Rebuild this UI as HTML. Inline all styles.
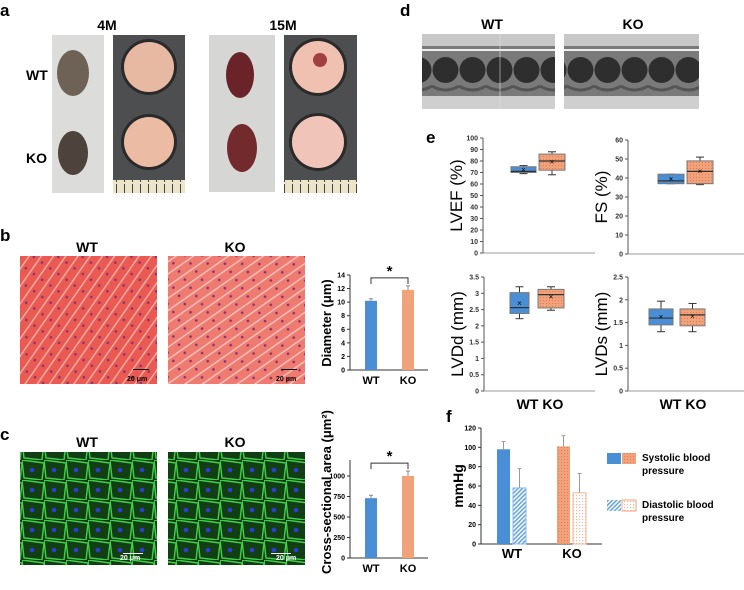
<!DOCTYPE html>
<html><head><meta charset="utf-8"><style>
body{margin:0;background:#fff;font-family:"Liberation Sans",Arial,sans-serif}
svg text{font-family:"Liberation Sans",Arial,sans-serif}
</style></head><body>
<svg id="fig" width="744" height="585" viewBox="0 0 744 585" xmlns="http://www.w3.org/2000/svg">
<defs>
<pattern id="histo" width="14" height="10" patternUnits="userSpaceOnUse" patternTransform="rotate(-55)"><rect width="14" height="10" fill="#ea5a52"/><rect y="0" width="14" height="1.5" fill="#f4aaa0"/><circle cx="5" cy="5" r="1.3" fill="#8a3070"/></pattern>
<pattern id="histo2" width="14" height="10" patternUnits="userSpaceOnUse" patternTransform="rotate(-35)"><rect width="14" height="10" fill="#ef7a70"/><rect y="0" width="14" height="1.5" fill="#f8c0b8"/><circle cx="5" cy="5" r="1.3" fill="#8a3070"/></pattern>
<pattern id="fluo" width="22" height="20" patternUnits="userSpaceOnUse"><rect width="22" height="20" fill="#123e14"/><path d="M0 0L22 3L20 20L2 18Z" fill="none" stroke="#3fd04a" stroke-width="1.4"/><circle cx="10" cy="10" r="2.3" fill="#2a3fd0"/></pattern>
<pattern id="echo" x="0" y="34" width="27" height="75" patternUnits="userSpaceOnUse"><rect width="27" height="75" fill="#7a7a7a"/><rect width="27" height="12" fill="#c8c8c8"/><rect y="62" width="27" height="13" fill="#cfcfcf"/><path d="M0 16H27" stroke="#eee" stroke-width="2"/><ellipse cx="13.5" cy="36" rx="13" ry="13" fill="#2e2e2e"/><path d="M0 52Q13.5 60 27 52" stroke="#555" stroke-width="3" fill="none"/></pattern>
<pattern id="orX" width="3" height="3" patternUnits="userSpaceOnUse"><rect width="3" height="3" fill="#f2a27a"/><rect width="1" height="1" fill="#e07d52"/></pattern>
<pattern id="blueHatch" width="3" height="3" patternUnits="userSpaceOnUse" patternTransform="rotate(45)"><rect width="3" height="3" fill="#fff"/><rect width="1.6" height="3" fill="#6aa6dd"/></pattern>
<pattern id="orDot" width="3" height="3" patternUnits="userSpaceOnUse"><rect width="3" height="3" fill="#fff"/><rect width="1.2" height="1.2" fill="#f4b497"/></pattern>
<pattern id="ruler" width="8" height="13" patternUnits="userSpaceOnUse"><rect width="8" height="13" fill="#ece4c8"/><rect x="4" y="2" width="1" height="11" fill="#444"/></pattern>
</defs>

<!-- panel a -->
<text x="0" y="16" font-size="17" font-weight="bold">a</text>
<text x="107" y="30" font-size="14" font-weight="bold" text-anchor="middle">4M</text>
<text x="283" y="30" font-size="14" font-weight="bold" text-anchor="middle">15M</text>
<text x="26" y="80" font-size="14" font-weight="bold">WT</text>
<text x="26" y="163" font-size="14" font-weight="bold">KO</text>
<g>
<rect x="52" y="35" width="52" height="158" fill="#dcdcda"/>
<ellipse cx="73" cy="73" rx="16" ry="23" fill="#6e6257"/><ellipse cx="73" cy="153" rx="15" ry="22" fill="#4e423c"/>
<rect x="113" y="35" width="72" height="158" fill="#4c4e50"/>
<circle cx="149" cy="67" r="28" fill="#2a2a2a"/><circle cx="149" cy="67" r="25" fill="#e8b9a2"/>
<circle cx="149" cy="142" r="28" fill="#2a2a2a"/><circle cx="149" cy="142" r="25" fill="#ebbba3"/>
<rect x="113" y="180" width="72" height="13" fill="url(#ruler)"/>
<rect x="209" y="35" width="66" height="157" fill="#d6d6d4"/>
<ellipse cx="240" cy="75" rx="14" ry="23" fill="#6a2328"/><ellipse cx="242" cy="148" rx="15" ry="24" fill="#722a2c"/>
<rect x="284" y="35" width="73" height="158" fill="#4c4e50"/>
<circle cx="318" cy="67" r="29" fill="#2a2a2a"/><circle cx="318" cy="67" r="26" fill="#f0c0b0"/><circle cx="320" cy="60" r="7" fill="#a04040"/>
<circle cx="318" cy="142" r="29" fill="#2a2a2a"/><circle cx="318" cy="142" r="26" fill="#f0c4b8"/>
<rect x="284" y="180" width="73" height="13" fill="url(#ruler)"/>
</g>

<!-- panel b -->
<text x="0" y="241" font-size="17" font-weight="bold">b</text>
<text x="87" y="252" font-size="14" font-weight="bold" text-anchor="middle">WT</text>
<text x="235" y="252" font-size="14" font-weight="bold" text-anchor="middle">KO</text>
<rect x="20" y="256" width="137" height="128" fill="url(#histo)"/>
<rect x="168" y="256" width="137" height="128" fill="url(#histo2)"/>
<rect x="133" y="369" width="16" height="1" fill="#000"/><text x="127" y="381" font-size="7" fill="#000" font-weight="bold">20 μm</text>
<rect x="281" y="369" width="16" height="1" fill="#000"/><text x="276" y="381" font-size="7" fill="#000" font-weight="bold">20 μm</text>
<g id="chartB"></g>

<!-- panel c -->
<text x="0" y="440" font-size="17" font-weight="bold">c</text>
<text x="87" y="447" font-size="14" font-weight="bold" text-anchor="middle">WT</text>
<text x="235" y="447" font-size="14" font-weight="bold" text-anchor="middle">KO</text>
<rect x="20" y="452" width="137" height="113" fill="url(#fluo)"/>
<rect x="168" y="452" width="137" height="113" fill="url(#fluo)"/>
<rect x="123" y="553" width="20" height="1" fill="#fff"/><text x="120" y="555" font-size="7" fill="#fff" font-weight="bold" dy="5">20 μm</text>
<rect x="271" y="553" width="20" height="1" fill="#fff"/><text x="276" y="555" font-size="7" fill="#fff" font-weight="bold" dy="5">20 μm</text>
<g id="chartC"></g>

<!-- panel d -->
<text x="400" y="16" font-size="17" font-weight="bold">d</text>
<text x="492" y="29" font-size="14" font-weight="bold" text-anchor="middle">WT</text>
<text x="633" y="29" font-size="14" font-weight="bold" text-anchor="middle">KO</text>
<rect x="422" y="34" width="133" height="75" fill="url(#echo)"/>
<rect x="564" y="34" width="135" height="75" fill="url(#echo)"/>
<line x1="500" y1="34" x2="500" y2="109" stroke="#ddd" stroke-width="0.6"/>

<!-- panel e -->
<text x="426" y="143" font-size="17" font-weight="bold">e</text>
<g id="chartE"></g>

<!-- panel f -->
<text x="446" y="422" font-size="17" font-weight="bold">f</text>
<g id="chartF"></g>
</svg>
<script>
const NS="http://www.w3.org/2000/svg";
function mk(p,tag,a,txt){const e=document.createElementNS(NS,tag);for(const k in a)e.setAttribute(k,a[k]);if(txt!==undefined)e.textContent=txt;p.appendChild(e);return e;}

// ---- panel b data
const bCats=["WT","KO"];
const bVals=[10.2,11.8];
const bErr=[0.3,0.6];
const bTicks=[0,2,4,6,8,10,12,14];
// ---- panel c data
const cCats=["WT","KO"];
const cVals=[730,1000];
const cErr=[35,60];
const cTicks=[0,250,500,750,1000];
// ---- panel e data (min,q1,median,q3,max,mean)
const eTitles=["LVEF (%)","FS (%)","LVDd (mm)","LVDs (mm)"];
const eTicks=[[0,10,20,30,40,50,60,70,80,90,100],[0,10,20,30,40,50,60],[0,0.5,1,1.5,2,2.5,3,3.5],[0,0.5,1,1.5,2,2.5]];
const eWT=[[69,70,71,75,76,72],[37,37,38.5,42,42,39.5],[2.22,2.38,2.56,3.02,3.2,2.68],[1.3,1.45,1.6,1.8,1.97,1.62]];
const eKO=[[68,72,80,86,88,79],[36.5,37,43.5,49,51,43.5],[2.48,2.55,2.96,3.12,3.2,2.88],[1.3,1.43,1.67,1.8,1.92,1.63]];
// ---- panel f data
const fGroups=["WT","KO"];
const fSys=[98,101];
const fSysErr=[8,11];
const fDia=[58,53];
const fDiaErr=[20,20];
const fTicks=[0,20,40,60,80,100,120];

function barChart(g,cats,vals,errs,ticks,ax,yTop,yBot,axTop,xEnd,title,name,titleY){
  const max=ticks[ticks.length-1];
  const y=v=>yBot-(v/max)*(yBot-yTop);
  mk(g,"line",{x1:ax,y1:axTop,x2:ax,y2:yBot,stroke:"#333"});
  mk(g,"line",{x1:ax,y1:yBot,x2:xEnd,y2:yBot,stroke:"#333"});
  ticks.forEach(t=>{mk(g,"line",{x1:ax-3,x2:ax,y1:y(t),y2:y(t),stroke:"#333"});
    const tl=mk(g,"text",{x:ax-5,y:y(t)+2.5,"font-size":7,"font-weight":"bold","text-anchor":"end"},t);
    
    });
  const cols=["#4a8fd6","#f2a27a"];
  const step=37, first=ax+21;
  cats.forEach((c,i)=>{const cx=first+step*i;
    const r=mk(g,"rect",{x:cx-6,y:y(vals[i]),width:12,height:yBot-y(vals[i]),fill:cols[i]});
    
    
    mk(g,"line",{x1:cx,x2:cx,y1:y(vals[i]),y2:y(vals[i]+errs[i]),stroke:"#888"});
    mk(g,"line",{x1:cx-2,x2:cx+2,y1:y(vals[i]+errs[i]),y2:y(vals[i]+errs[i]),stroke:"#888"});
    const xl=mk(g,"text",{x:cx,y:yBot+14,"font-size":11,"font-weight":"bold","text-anchor":"middle"},c);
    
    });
  const x0=first,x1=first+step,by=y(Math.max(vals[0]+errs[0],vals[1]+errs[1]))-8;
  mk(g,"path",{d:`M${x0} ${by+6}V${by}H${x1}V${by+6}`,fill:"none",stroke:"#333"});
  const st=mk(g,"text",{x:(x0+x1)/2,y:by-2,"font-size":15,"font-weight":"bold","text-anchor":"middle"},"*");
  
  
  const tt=mk(g,"text",{x:0,y:0,"font-size":13,"font-weight":"bold","text-anchor":"middle",transform:`translate(${ax-19},${titleY}) rotate(-90)`},title);
  
  
}
barChart(document.getElementById("chartB"),bCats,bVals,bErr,bTicks,350,275,370,275,428,"Diameter (μm)","diameter",323);
barChart(document.getElementById("chartC"),cCats,cVals,cErr,cTicks,350,476,558,460,428,"Cross-sectional area (μm²)","area",492);

// panel e
const eAxX=[483,628,484,628], eTop=[138,140,277,277], eBot=[253,254,391,391], eEnd=[595,744,595,744];
const eBoxX=[[511,539],[658,687],[510,538],[649,680]], eBoxW=[[25,26],[26,26],[19,26],[24,25]];
const gE=document.getElementById("chartE");
for(let k=0;k<4;k++){
  const g=mk(gE,"g",{});
  
  
  const tk=eTicks[k],max=tk[tk.length-1],ax=eAxX[k],yT=eTop[k],yB=eBot[k];
  const y=v=>yB-(v/max)*(yB-yT);
  mk(g,"line",{x1:ax,y1:yT,x2:ax,y2:yB,stroke:"#555"});
  mk(g,"line",{x1:ax,y1:yB,x2:eEnd[k],y2:yB,stroke:"#999"});
  tk.forEach(t=>{mk(g,"line",{x1:ax-3,x2:ax,y1:y(t),y2:y(t),stroke:"#555"});
    const tl=mk(g,"text",{x:ax-5,y:y(t)+2.5,"font-size":7,"font-weight":"bold","text-anchor":"end",fill:"#333"},t);
    
    });
  const tt=mk(g,"text",{x:0,y:0,"font-size":17,"text-anchor":"middle",transform:`translate(${ax-21},${(yT+yB)/2}) rotate(-90)`},eTitles[k]);
  
  
  [eWT[k],eKO[k]].forEach((d,i)=>{
    const x=eBoxX[k][i],w=eBoxW[k][i],cx=x+w/2;
    mk(g,"line",{x1:cx,x2:cx,y1:y(d[0]),y2:y(d[4]),stroke:"#333"});
    mk(g,"line",{x1:cx-4,x2:cx+4,y1:y(d[0]),y2:y(d[0]),stroke:"#333"});
    mk(g,"line",{x1:cx-4,x2:cx+4,y1:y(d[4]),y2:y(d[4]),stroke:"#333"});
    const b=mk(g,"rect",{x:x,y:y(d[3]),width:w,height:y(d[1])-y(d[3]),fill:i?"url(#orX)":"#4a8fd6",stroke:"#777"});
    
    
    mk(g,"line",{x1:x,x2:x+w,y1:y(d[2]),y2:y(d[2]),stroke:"#333","stroke-width":1.2});
    mk(g,"text",{x:cx,y:y(d[5])+2.5,"font-size":8,"text-anchor":"middle"},"×");
  });
}
[[540],[683]].forEach(([x])=>{
  const t=mk(gE,"text",{x:x,y:409,"font-size":14,"font-weight":"bold","text-anchor":"middle"},"WT KO");
  
  });

// panel f
const gF=document.getElementById("chartF");
{const ax=481,yT=428,yB=544,xE=602,max=fTicks[fTicks.length-1];
 const y=v=>yB-(v/max)*(yB-yT);
 mk(gF,"line",{x1:ax,y1:yT,x2:ax,y2:yB,stroke:"#333"});
 mk(gF,"line",{x1:ax,y1:yB,x2:xE,y2:yB,stroke:"#333"});
 fTicks.forEach(t=>{mk(gF,"line",{x1:ax-3,x2:ax,y1:y(t),y2:y(t),stroke:"#333"});
   const tl=mk(gF,"text",{x:ax-5,y:y(t)+2.5,"font-size":7,"font-weight":"bold","text-anchor":"end"},t);
   
   });
 const tt=mk(gF,"text",{x:0,y:0,"font-size":14,"font-weight":"bold","text-anchor":"middle",transform:`translate(463,486) rotate(-90)`},"mmHg");
 
 
 const gx=[497,557];
 fGroups.forEach((g,i)=>{
   const s=mk(gF,"rect",{x:gx[i],y:y(fSys[i]),width:13,height:yB-y(fSys[i]),fill:i?"url(#orX)":"#4a8fd6"});
   
   
   const d=mk(gF,"rect",{x:gx[i]+16,y:y(fDia[i]),width:13,height:yB-y(fDia[i]),fill:i?"url(#orDot)":"url(#blueHatch)",stroke:i?"#f4b497":"#8bbbe6"});
   
   
   [[gx[i]+6.5,fSys[i],fSysErr[i]],[gx[i]+22.5,fDia[i],fDiaErr[i]]].forEach(([cx,v,e])=>{
     mk(gF,"line",{x1:cx,x2:cx,y1:y(v),y2:y(v+e),stroke:"#999"});
     mk(gF,"line",{x1:cx-2,x2:cx+2,y1:y(v+e),y2:y(v+e),stroke:"#999"});});
   const xl=mk(gF,"text",{x:gx[i]+15,y:558,"font-size":13,"font-weight":"bold","text-anchor":"middle"},g);
   
   
 });
 const l1=mk(gF,"g",{});
 
 
 mk(l1,"rect",{x:607,y:453,width:14,height:11,fill:"#4a8fd6"});
 mk(l1,"rect",{x:622,y:453,width:14,height:11,fill:"url(#orX)"});
 mk(l1,"text",{x:642,y:461,"font-size":10,"font-weight":"bold"},"Systolic blood");
 mk(l1,"text",{x:642,y:474,"font-size":10,"font-weight":"bold"},"pressure");
 const l2=mk(gF,"g",{});
 
 
 mk(l2,"rect",{x:607,y:500,width:14,height:11,fill:"url(#blueHatch)"});
 mk(l2,"rect",{x:622,y:500,width:14,height:11,fill:"url(#orDot)",stroke:"#f2a27a"});
 mk(l2,"text",{x:642,y:508,"font-size":10,"font-weight":"bold"},"Diastolic blood");
 mk(l2,"text",{x:642,y:521,"font-size":10,"font-weight":"bold"},"pressure");
}
</script>
</body></html>
